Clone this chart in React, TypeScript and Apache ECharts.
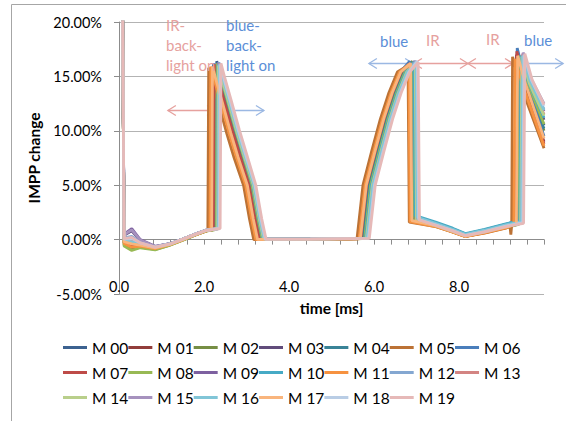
import React, { useEffect, useRef } from "react";
import * as echarts from "echarts";

// IMPP change (%) versus time (ms) for twenty measurements, M 00 … M 19.
const seriesNames = [
  "M 00", "M 01", "M 02", "M 03", "M 04", "M 05", "M 06",
  "M 07", "M 08", "M 09", "M 10", "M 11", "M 12", "M 13",
  "M 14", "M 15", "M 16", "M 17", "M 18", "M 19",
];

const seriesColors = [
  "#3c6290", "#923d3b", "#768e44", "#614c7b", "#398397", "#bc7235",
  "#4a7ebb", "#be4b48", "#98b954", "#7d60a0", "#46aac5", "#f69240",
  "#84a7d1", "#d38482", "#b9cf8b", "#a692be", "#81c5d7", "#f9b57d",
  "#b9cde5", "#e6b9b8",
];

// [time ms, IMPP change %]
const M00 = [[0.07,30],[0.12,0.05],[0.3,0.1],[0.5,-0.35],[0.85,-0.72],[1.2,-0.42],[1.5,0.02],[1.8,0.48],[2.05,0.82],[2.28,0.98],[2.3,16.4],[2.38,15.2],[2.54,13.0],[2.73,10.3],[2.9,8.1],[3.12,5.0],[3.26,1.9],[3.36,0.05],[4.5,0.06],[5.75,0.12],[5.89,5.0],[6.1,8.2],[6.3,11.1],[6.5,13.5],[6.7,15.4],[6.88,16.3],[6.91,1.9],[7.45,1.35],[7.85,0.8],[8.15,0.38],[8.6,0.72],[9.1,1.2],[9.38,1.45],[9.41,16.9],[9.58,14.4],[10.0,10.5]];
const M01 = [[0.07,30],[0.12,-0.2],[0.3,-0.4],[0.5,-0.5],[0.85,-0.78],[1.2,-0.45],[1.5,0.0],[1.8,0.45],[2.05,0.8],[2.24,0.95],[2.26,16.0],[2.34,14.8],[2.5,12.6],[2.69,9.9],[2.86,7.7],[3.08,5.0],[3.22,1.9],[3.32,0.05],[4.5,0.05],[5.71,0.1],[5.85,5.0],[6.06,8.2],[6.26,11.1],[6.46,13.5],[6.66,15.4],[6.86,16.2],[6.89,1.8],[7.45,1.3],[7.85,0.75],[8.15,0.32],[8.6,0.68],[9.1,1.15],[9.32,1.4],[9.35,17.0],[9.52,14.6],[10.0,9.0]];
const M02 = [[0.07,30],[0.12,-0.5],[0.3,-0.9],[0.5,-0.7],[0.85,-0.9],[1.2,-0.5],[1.5,-0.05],[1.8,0.42],[2.05,0.8],[2.26,0.92],[2.28,16.1],[2.36,14.9],[2.52,12.7],[2.71,10.0],[2.88,7.8],[3.1,5.0],[3.24,1.9],[3.34,0.05],[4.5,0.04],[5.77,0.1],[5.91,5.0],[6.12,8.2],[6.32,11.1],[6.52,13.5],[6.72,15.4],[6.9,16.4],[6.93,1.7],[7.45,1.25],[7.85,0.7],[8.15,0.3],[8.6,0.65],[9.1,1.1],[9.4,1.4],[9.43,16.6],[9.6,14.2],[10.0,10.0]];
const M03 = [[0.07,30],[0.12,0.4],[0.3,0.8],[0.5,-0.1],[0.85,-0.65],[1.2,-0.38],[1.5,0.05],[1.8,0.5],[2.05,0.85],[2.3,1.0],[2.32,16.2],[2.4,15.0],[2.56,12.8],[2.75,10.1],[2.92,7.9],[3.14,5.0],[3.28,1.9],[3.38,0.05],[4.5,0.06],[5.79,0.12],[5.93,5.0],[6.14,8.2],[6.34,11.1],[6.54,13.5],[6.74,15.4],[6.92,16.2],[6.95,1.9],[7.45,1.4],[7.85,0.85],[8.15,0.4],[8.6,0.75],[9.1,1.25],[9.42,1.5],[9.45,16.8],[9.62,14.4],[10.0,11.0]];
const M04 = [[0.07,30],[0.12,-0.1],[0.3,-0.2],[0.5,-0.4],[0.85,-0.7],[1.2,-0.4],[1.5,0.03],[1.8,0.5],[2.05,0.84],[2.27,0.97],[2.29,16.0],[2.37,14.8],[2.53,12.6],[2.72,9.9],[2.89,7.7],[3.11,5.0],[3.25,1.9],[3.35,0.05],[4.5,0.05],[5.73,0.1],[5.87,5.0],[6.08,8.2],[6.28,11.1],[6.48,13.5],[6.68,15.4],[6.89,16.3],[6.92,2.1],[7.45,1.55],[7.85,1.0],[8.15,0.5],[8.6,0.9],[9.1,1.4],[9.36,1.7],[9.39,16.7],[9.56,14.3],[10.0,10.2]];
const M05 = [[0.07,30],[0.12,-0.3],[0.3,-0.6],[0.5,-0.55],[0.85,-0.8],[1.2,-0.45],[1.5,0.0],[1.8,0.45],[2.05,0.8],[2.09,0.85],[2.11,15.8],[2.19,14.6],[2.35,12.4],[2.54,9.7],[2.71,7.5],[2.93,5.0],[3.07,1.9],[3.17,0.0],[4.5,0.03],[5.6,0.08],[5.74,5.0],[5.95,8.2],[6.15,11.1],[6.35,13.5],[6.55,15.4],[6.8,16.0],[6.83,1.6],[7.45,1.2],[7.85,0.7],[8.15,0.3],[8.6,0.6],[9.1,1.05],[9.2,1.2],[9.22,0.45],[9.24,1.3],[9.26,16.8],[9.43,14.4],[10.0,8.4]];
const M06 = [[0.07,30],[0.12,0.1],[0.3,0.2],[0.5,-0.3],[0.85,-0.7],[1.2,-0.42],[1.5,0.02],[1.8,0.48],[2.05,0.83],[2.2,0.93],[2.22,16.2],[2.3,15.0],[2.46,12.8],[2.65,10.1],[2.82,7.9],[3.04,5.0],[3.18,1.9],[3.28,0.05],[4.5,0.05],[5.67,0.1],[5.81,5.0],[6.02,8.2],[6.22,11.1],[6.42,13.5],[6.62,15.4],[6.84,16.4],[6.87,1.8],[7.45,1.3],[7.85,0.78],[8.15,0.35],[8.6,0.7],[9.1,1.18],[9.34,1.45],[9.37,17.6],[9.54,15.0],[10.0,9.5]];
const M07 = [[0.07,30],[0.12,-0.25],[0.3,-0.5],[0.5,-0.5],[0.85,-0.76],[1.2,-0.44],[1.5,0.0],[1.8,0.46],[2.05,0.8],[2.22,0.92],[2.24,16.1],[2.32,14.9],[2.48,12.7],[2.67,10.0],[2.84,7.8],[3.06,5.0],[3.2,1.9],[3.3,0.05],[4.5,0.04],[5.69,0.1],[5.83,5.0],[6.04,8.2],[6.24,11.1],[6.44,13.5],[6.64,15.4],[6.85,16.2],[6.88,1.7],[7.45,1.25],[7.85,0.72],[8.15,0.3],[8.6,0.66],[9.1,1.12],[9.33,1.4],[9.36,17.3],[9.53,14.8],[10.0,8.8]];
const M08 = [[0.07,30],[0.12,-0.6],[0.3,-1.0],[0.5,-0.75],[0.85,-0.95],[1.2,-0.52],[1.5,-0.05],[1.8,0.42],[2.05,0.78],[2.29,0.95],[2.31,16.2],[2.39,15.0],[2.55,12.8],[2.74,10.1],[2.91,7.9],[3.13,5.0],[3.27,1.9],[3.37,0.05],[4.5,0.05],[5.78,0.1],[5.92,5.0],[6.13,8.2],[6.33,11.1],[6.53,13.5],[6.73,15.4],[6.93,16.3],[6.96,1.8],[7.45,1.3],[7.85,0.75],[8.15,0.33],[8.6,0.7],[9.1,1.15],[9.41,1.45],[9.44,16.9],[9.61,14.5],[10.0,10.6]];
const M09 = [[0.07,30],[0.12,0.5],[0.3,1.0],[0.5,0.0],[0.85,-0.62],[1.2,-0.36],[1.5,0.06],[1.8,0.52],[2.05,0.86],[2.32,1.0],[2.34,16.3],[2.42,15.1],[2.58,12.9],[2.77,10.2],[2.94,8.0],[3.16,5.0],[3.3,1.9],[3.4,0.05],[4.5,0.06],[5.81,0.12],[5.95,5.0],[6.16,8.2],[6.36,11.1],[6.56,13.5],[6.76,15.4],[6.96,16.4],[6.99,1.9],[7.45,1.4],[7.85,0.85],[8.15,0.42],[8.6,0.78],[9.1,1.28],[9.44,1.55],[9.47,16.8],[9.64,14.5],[10.0,11.8]];
const M10 = [[0.07,30],[0.12,-0.05],[0.3,-0.1],[0.5,-0.35],[0.85,-0.68],[1.2,-0.4],[1.5,0.05],[1.8,0.52],[2.05,0.88],[2.31,1.02],[2.33,16.1],[2.41,14.9],[2.57,12.7],[2.76,10.0],[2.93,7.8],[3.15,5.0],[3.29,1.9],[3.39,0.05],[4.5,0.06],[5.8,0.12],[5.94,5.0],[6.15,8.2],[6.35,11.1],[6.55,13.5],[6.75,15.4],[6.94,16.3],[6.97,2.2],[7.45,1.6],[7.85,1.05],[8.15,0.55],[8.6,0.95],[9.1,1.45],[9.43,1.75],[9.46,16.9],[9.63,14.5],[10.0,11.2]];
const M11 = [[0.07,30],[0.12,-0.35],[0.3,-0.7],[0.5,-0.6],[0.85,-0.82],[1.2,-0.46],[1.5,-0.02],[1.8,0.44],[2.05,0.8],[2.14,0.86],[2.16,15.9],[2.24,14.7],[2.4,12.5],[2.59,9.8],[2.76,7.6],[2.98,5.0],[3.12,1.9],[3.22,0.0],[4.5,0.03],[5.65,0.08],[5.79,5.0],[6.0,8.2],[6.2,11.1],[6.4,13.5],[6.6,15.4],[6.82,16.1],[6.85,1.65],[7.45,1.2],[7.85,0.68],[8.15,0.28],[8.6,0.62],[9.1,1.08],[9.29,1.35],[9.32,16.6],[9.49,14.3],[10.0,8.6]];
const M12 = [[0.07,30],[0.12,0.15],[0.3,0.3],[0.5,-0.25],[0.85,-0.66],[1.2,-0.38],[1.5,0.05],[1.8,0.5],[2.05,0.85],[2.33,1.0],[2.35,16.3],[2.43,15.1],[2.59,12.9],[2.78,10.2],[2.95,8.0],[3.17,5.0],[3.31,1.9],[3.41,0.05],[4.5,0.06],[5.83,0.12],[5.97,5.0],[6.18,8.2],[6.38,11.1],[6.58,13.5],[6.78,15.4],[6.98,16.4],[7.01,1.85],[7.45,1.35],[7.85,0.8],[8.15,0.38],[8.6,0.74],[9.1,1.22],[9.46,1.5],[9.49,17.0],[9.66,14.7],[10.0,12.0]];
const M13 = [[0.07,30],[0.12,0.0],[0.3,0.0],[0.5,-0.35],[0.85,-0.7],[1.2,-0.4],[1.5,0.04],[1.8,0.5],[2.05,0.86],[2.34,1.0],[2.36,16.2],[2.44,15.0],[2.6,12.8],[2.79,10.1],[2.96,7.9],[3.18,5.0],[3.32,1.9],[3.42,0.05],[4.5,0.05],[5.84,0.12],[5.98,5.0],[6.19,8.2],[6.39,11.1],[6.59,13.5],[6.79,15.4],[6.99,16.3],[7.02,1.8],[7.45,1.3],[7.85,0.78],[8.15,0.36],[8.6,0.72],[9.1,1.2],[9.47,1.5],[9.5,17.1],[9.67,14.7],[10.0,11.5]];
const M14 = [[0.07,30],[0.12,-0.15],[0.3,-0.3],[0.5,-0.45],[0.85,-0.74],[1.2,-0.42],[1.5,0.02],[1.8,0.48],[2.05,0.84],[2.32,0.98],[2.34,16.0],[2.42,14.8],[2.58,12.6],[2.77,9.9],[2.94,7.7],[3.16,5.0],[3.3,1.9],[3.4,0.05],[4.5,0.05],[5.82,0.12],[5.96,5.0],[6.17,8.2],[6.37,11.1],[6.57,13.5],[6.77,15.4],[6.97,16.2],[7.0,1.75],[7.45,1.28],[7.85,0.76],[8.15,0.34],[8.6,0.7],[9.1,1.18],[9.45,1.48],[9.48,16.8],[9.65,14.4],[10.0,11.4]];
const M15 = [[0.07,30],[0.12,0.45],[0.3,0.9],[0.5,-0.05],[0.85,-0.63],[1.2,-0.36],[1.5,0.06],[1.8,0.52],[2.05,0.87],[2.35,1.02],[2.37,16.2],[2.45,15.0],[2.61,12.8],[2.8,10.1],[2.97,7.9],[3.19,5.0],[3.33,1.9],[3.43,0.05],[4.5,0.06],[5.85,0.12],[5.99,5.0],[6.2,8.2],[6.4,11.1],[6.6,13.5],[6.8,15.4],[7.0,16.4],[7.03,1.9],[7.45,1.4],[7.85,0.85],[8.15,0.4],[8.6,0.76],[9.1,1.26],[9.48,1.55],[9.51,17.2],[9.68,14.9],[10.0,12.5]];
const M16 = [[0.07,30],[0.12,-0.1],[0.3,-0.2],[0.5,-0.4],[0.85,-0.7],[1.2,-0.4],[1.5,0.04],[1.8,0.5],[2.05,0.86],[2.34,1.0],[2.36,16.1],[2.44,14.9],[2.6,12.7],[2.79,10.0],[2.96,7.8],[3.18,5.0],[3.32,1.9],[3.42,0.05],[4.5,0.05],[5.84,0.12],[5.98,5.0],[6.19,8.2],[6.39,11.1],[6.59,13.5],[6.79,15.4],[6.99,16.3],[7.02,2.05],[7.45,1.5],[7.85,0.95],[8.15,0.48],[8.6,0.86],[9.1,1.36],[9.47,1.65],[9.5,16.9],[9.67,14.6],[10.0,11.9]];
const M17 = [[0.07,30],[0.12,-0.2],[0.3,-0.4],[0.5,-0.5],[0.85,-0.77],[1.2,-0.44],[1.5,0.0],[1.8,0.46],[2.05,0.82],[2.18,0.9],[2.2,15.9],[2.28,14.7],[2.44,12.5],[2.63,9.8],[2.8,7.6],[3.02,5.0],[3.16,1.9],[3.26,0.02],[4.5,0.04],[5.68,0.1],[5.82,5.0],[6.03,8.2],[6.23,11.1],[6.43,13.5],[6.63,15.4],[6.86,16.2],[6.89,1.75],[7.45,1.28],[7.85,0.74],[8.15,0.32],[8.6,0.68],[9.1,1.14],[9.35,1.42],[9.38,16.9],[9.55,14.5],[10.0,9.3]];
const M18 = [[0.07,30],[0.12,0.05],[0.3,0.1],[0.5,-0.3],[0.85,-0.68],[1.2,-0.39],[1.5,0.05],[1.8,0.5],[2.05,0.86],[2.36,1.02],[2.38,16.1],[2.46,14.9],[2.62,12.7],[2.81,10.0],[2.98,7.8],[3.2,5.0],[3.34,1.9],[3.44,0.05],[4.5,0.06],[5.87,0.12],[6.01,5.0],[6.22,8.2],[6.42,11.1],[6.62,13.5],[6.82,15.4],[7.02,16.4],[7.05,1.85],[7.45,1.35],[7.85,0.82],[8.15,0.38],[8.6,0.74],[9.1,1.24],[9.5,1.55],[9.53,17.0],[9.7,14.7],[10.0,12.3]];
const M19 = [[0.07,30],[0.12,0.1],[0.3,0.2],[0.5,-0.3],[0.85,-0.69],[1.2,-0.4],[1.5,0.04],[1.8,0.5],[2.05,0.86],[2.38,1.02],[2.4,16.2],[2.48,15.0],[2.64,12.8],[2.83,10.1],[3.0,7.9],[3.22,5.0],[3.36,1.9],[3.46,0.05],[4.5,0.05],[5.89,0.12],[6.03,5.0],[6.24,8.2],[6.44,11.1],[6.64,13.5],[6.84,15.4],[7.04,16.3],[7.07,1.8],[7.45,1.32],[7.85,0.8],[8.15,0.36],[8.6,0.72],[9.1,1.2],[9.52,1.5],[9.55,17.1],[9.72,14.7],[10.0,12.4]];

const traces = [M00, M01, M02, M03, M04, M05, M06, M07, M08, M09, M10, M11, M12, M13, M14, M15, M16, M17, M18, M19];

// axis ranges and tick steps
const timeRange = [0, 10];
const timeTickStep = 0.4;
const timeLabelStep = 2;
const changeRange = [-5, 20];
const changeTickStep = 5;

const FONT = "Lato, 'Open Sans', sans-serif";
const RED = "#e6a19e";
const BLUE_TEXT = "#5b8ed7";
const BLUE_ARROW = "#9bb8e3";
const GRID_GRAY = "#b3b3b3";
const AXIS_GRAY = "#8c8c8c";

export default function App() {
  const ref = useRef<HTMLDivElement>(null);

  useEffect(() => {
    if (!ref.current) return;
    const chart = echarts.init(ref.current, undefined, { renderer: "svg" });

    chart.setOption({
      animation: false,
      backgroundColor: "#ffffff",
      grid: { left: 119, right: 22, top: 22, bottom: 127, outerBoundsMode: "none" },
      xAxis: [
        {
          type: "value",
          min: timeRange[0],
          max: timeRange[1],
          interval: timeTickStep,
          position: "bottom",
          axisLine: { show: true, onZero: true, lineStyle: { color: AXIS_GRAY, width: 1 } },
          axisTick: { show: true, length: 5, lineStyle: { color: AXIS_GRAY } },
          axisLabel: { show: false },
          splitLine: { show: false },
        },
        {
          type: "value",
          min: timeRange[0],
          max: timeRange[1],
          interval: timeLabelStep,
          position: "bottom",
          axisLine: { show: false, onZero: false },
          axisTick: { show: false },
          splitLine: { show: false },
          axisLabel: {
            inside: true,
            margin: 0,
            fontSize: 14.5,
            fontFamily: FONT,
            color: "#000",
            formatter: (v: number) => (v < 9.5 ? v.toFixed(1) : ""),
          },
          name: "time [ms]",
          nameLocation: "middle",
          nameGap: 3,
          nameTextStyle: { fontSize: 15.5, fontWeight: "bold", fontFamily: FONT, color: "#000", verticalAlign: "top" },
        },
      ],
      yAxis: {
        type: "value",
        min: changeRange[0],
        max: changeRange[1],
        interval: changeTickStep,
        axisLine: { show: true, onZero: false, lineStyle: { color: AXIS_GRAY, width: 1 } },
        axisTick: { show: true, length: 5, lineStyle: { color: AXIS_GRAY } },
        splitLine: { show: true, lineStyle: { color: GRID_GRAY, width: 1 } },
        axisLabel: {
          margin: 17,
          fontSize: 14.5,
          fontFamily: FONT,
          color: "#000",
          formatter: (v: number) => `${v.toFixed(2)}%`,
        },
        name: "IMPP change",
        nameLocation: "middle",
        nameRotate: 90,
        nameGap: 74,
        nameTextStyle: { fontSize: 15.5, fontWeight: "bold", fontFamily: FONT, color: "#000" },
      },
      legend: {
        left: 63,
        top: 335,
        padding: 0,
        width: 490,
        icon: "rect",
        itemWidth: 24,
        itemHeight: 3,
        itemGap: 0,
        textStyle: { fontSize: 15.5, lineHeight: 25, fontFamily: FONT, color: "#000" },
        data: seriesNames,
      },
      series: traces.map((trace, i) => ({
        name: seriesNames[i],
        type: "line",
        xAxisIndex: 0,
        yAxisIndex: 0,
        data: trace,
        symbol: "none",
        clip: true,
        lineStyle: { width: 2.8, color: seriesColors[i] },
        itemStyle: { color: seriesColors[i] },
        z: 2,
      })),
    });

    // annotations anchored in data coordinates
    const px = (t: number, v: number) => chart.convertToPixel({ seriesIndex: 0 }, [t, v]) as number[];
    const head = 8;
    const half = 5;
    const arrow = (t1: number, t2: number, v: number, color: string) => {
      const a = px(t1, v);
      const b = px(t2, v);
      const y = Math.round(a[1]) + 0.5;
      const style = { stroke: color, lineWidth: 1.3, fill: "none" };
      return [
        { type: "line", shape: { x1: a[0], y1: y, x2: b[0], y2: y }, style, z: 1 },
        { type: "polyline", shape: { points: [[a[0] + head, y - half], [a[0], y], [a[0] + head, y + half]] }, style, z: 1 },
        { type: "polyline", shape: { points: [[b[0] - head, y - half], [b[0], y], [b[0] - head, y + half]] }, style, z: 1 },
      ];
    };
    const label = (text: string, x: number, y: number, color: string) => ({
      type: "text",
      x,
      y,
      z: 3,
      style: { text, fill: color, fontSize: 15, fontFamily: FONT, lineHeight: 20, verticalAlign: "top", align: "left" },
    });

    chart.setOption({
      graphic: [
        {
          type: "polyline",
          shape: { points: [[11.5, 421], [11.5, 4.5], [566, 4.5]] },
          style: { fill: "none", stroke: "#a6a6a6", lineWidth: 1 },
          z: 1,
        },
        ...arrow(1.15, 2.26, 11.9, RED),
        ...arrow(2.31, 3.41, 11.9, BLUE_ARROW),
        ...arrow(5.88, 6.92, 16.2, BLUE_ARROW),
        ...arrow(6.94, 8.21, 16.2, RED),
        ...arrow(8.21, 9.27, 16.2, RED),
        ...arrow(9.32, 10.45, 16.2, BLUE_ARROW),
        label("IR-\nback-\nlight on", 166, 15, RED),
        label("blue-\nback-\nlight on", 226, 15, BLUE_TEXT),
        label("blue", 380, 31, BLUE_TEXT),
        label("IR", 426, 30, RED),
        label("IR", 486, 29, RED),
        label("blue", 524, 30, BLUE_TEXT),
      ],
    });

    return () => chart.dispose();
  }, []);

  return (
    <div
      ref={ref}
      style={{ position: "fixed", left: 0, top: 0, width: 566, height: 421, background: "#fff" }}
    />
  );
}
